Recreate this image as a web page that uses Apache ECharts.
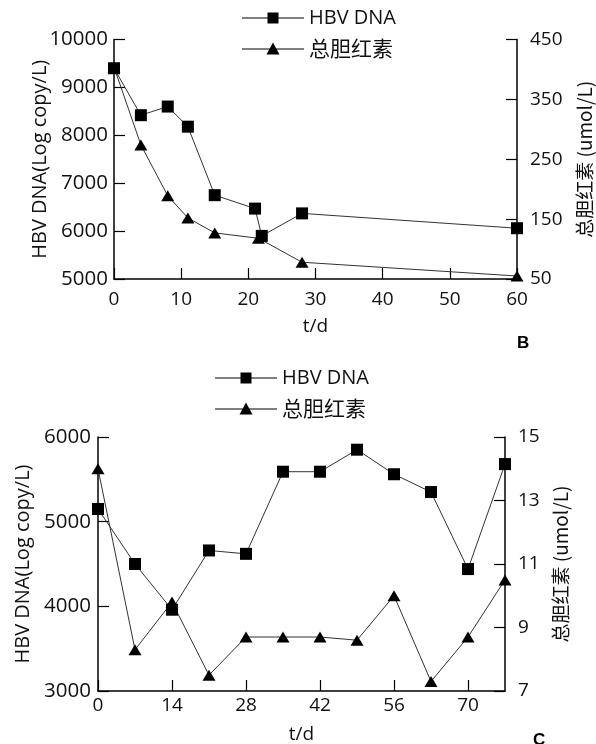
<!DOCTYPE html>
<html><head><meta charset="utf-8">
<script src="https://cdn.jsdelivr.net/npm/echarts@6/dist/echarts.min.js"></script>
<style>html,body{margin:0;padding:0;background:#fff}#c{width:596px;height:744px}</style>
</head><body><div id="c"></div>
<script>
const seriesNames = ['HBV DNA', '总胆红素'];
// Panel B
const bHbvDays = [0, 4, 8, 11, 15, 21, 22, 28, 60];
const bHbvValues = [9400, 8420, 8600, 8180, 6750, 6470, 5900, 6370, 6060];
const bBilDays = [0, 4, 8, 11, 15, 21.5, 28, 60];
const bBilValues = [404, 274, 189, 152, 127, 118, 78, 55];
const bXTicks = [0, 10, 20, 30, 40, 50, 60];
const bLeftTicks = [5000, 6000, 7000, 8000, 9000, 10000];
const bRightTicks = [50, 150, 250, 350, 450];
// Panel C
const cDays = [0, 7, 14, 21, 28, 35, 42, 49, 56, 63, 70, 77];
const cHbvValues = [5150, 4500, 3960, 4660, 4620, 5590, 5590, 5850, 5560, 5350, 4440, 5680];
const cBilValues = [14.0, 8.3, 9.8, 7.5, 8.7, 8.7, 8.7, 8.6, 10.0, 7.3, 8.7, 10.5];
const cXTicks = [0, 14, 28, 42, 56, 70];
const cLeftTicks = [3000, 4000, 5000, 6000];
const cRightTicks = [7, 9, 11, 13, 15];

const FONT = "'Open Sans', 'Noto Sans CJK SC', sans-serif";
const CJK = "'Noto Sans CJK SC', 'Open Sans', sans-serif";
const axisLine = {show: true, lineStyle: {color: '#000', width: 1.5}};
const lineStyle = {color: '#333', width: 1};
const legendIcons = {
  'HBV DNA': 'path://M0,6L62,6L62,7L0,7Z M25.5,1L36.5,1L36.5,12L25.5,12Z',
  '总胆红素': 'path://M0,6.5L62,6.5L62,7.5L0,7.5Z M31,0.5L37.5,12.5L24.5,12.5Z'
};

function pairs(xs, ys) { return xs.map((x, i) => [x, ys[i]]); }

function xAxisDef(gridIndex, min, max, ticks, nameGap, margin) {
  return {
    type: 'value', gridIndex, min, max,
    name: 't/d', nameLocation: 'middle', nameGap, nameMoveOverlap: false,
    nameTextStyle: {fontFamily: FONT, fontSize: 19, color: '#111'},
    axisLine, splitLine: {show: false},
    axisTick: {show: true, inside: true, length: 11, customValues: ticks, lineStyle: {color: '#000', width: 1.2}},
    axisLabel: {customValues: ticks, fontFamily: FONT, fontSize: 19, color: '#111', margin}
  };
}
function yAxisDef(gridIndex, pos, min, max, ticks, name, nameGap, fontSize, margin) {
  return {
    type: 'value', gridIndex, position: pos, min, max,
    name, nameLocation: 'middle', nameGap, nameMoveOverlap: false,
    nameTextStyle: {fontFamily: pos === 'left' ? FONT : CJK, fontSize: pos === 'left' ? 20 : 19, color: '#111'},
    axisLine, splitLine: {show: false},
    axisTick: {show: true, inside: true, length: 11, customValues: ticks, lineStyle: {color: '#000', width: 1.2}},
    axisLabel: {customValues: ticks, formatter: v => String(v), fontFamily: FONT, fontSize, color: '#111', margin}
  };
}
function legendDef(left, top) {
  return {
    data: seriesNames.map(n => ({name: n, icon: legendIcons[n]})),
    orient: 'vertical', left, top, padding: 0,
    itemWidth: 62, itemHeight: 13, itemGap: 10,
    formatter: n => /[\u4e00-\u9fff]/.test(n) ? '{c|' + n + '}' : n,
    textStyle: {fontFamily: FONT, fontSize: 20, color: '#111', rich: {c: {fontFamily: CJK, fontSize: 21, color: '#111'}}},
    selectedMode: false
  };
}
function series(name, xi, yi, data, symbol, size) {
  return {
    name, type: 'line', xAxisIndex: xi, yAxisIndex: yi, data,
    symbol, symbolSize: size, showSymbol: true,
    lineStyle, itemStyle: {color: '#000'}, emphasis: {disabled: true}, animation: false
  };
}

const chart = echarts.init(document.getElementById('c'));
chart.setOption({
  backgroundColor: '#fff',
  animation: false,
  title: [
    {text: 'B', left: 512, top: 330, textStyle: {fontFamily: "'Liberation Sans', Arial", fontWeight: 'bold', fontSize: 17, color: '#000'}},
    {text: 'C', left: 528, top: 727, textStyle: {fontFamily: "'Liberation Sans', Arial", fontWeight: 'bold', fontSize: 17, color: '#000'}}
  ],
  legend: [legendDef(242, 8), legendDef(215, 368)],
  grid: [
    {left: 114, right: 79, top: 39.5, bottom: 465, outerBoundsMode: 'none', containLabel: false},
    {left: 98, right: 91, top: 437, bottom: 53, outerBoundsMode: 'none', containLabel: false}
  ],
  xAxis: [
    xAxisDef(0, 0, 60, bXTicks, 38, 11),
    xAxisDef(1, 0, 77, cXTicks, 34, 5)
  ],
  yAxis: [
    yAxisDef(0, 'left', 5000, 10000, bLeftTicks, 'HBV DNA(Log copy/L)', 64, 20.5, 6),
    yAxisDef(0, 'right', 50, 450, bRightTicks, '总胆红素 (umol/L)', 58, 19, 13),
    yAxisDef(1, 'left', 3000, 6000, cLeftTicks, 'HBV DNA(Log copy/L)', 65, 20.5, 7),
    yAxisDef(1, 'right', 7, 15, cRightTicks, '总胆红素 (umol/L)', 46, 19, 13)
  ],
  series: [
    series(seriesNames[0], 0, 0, pairs(bHbvDays, bHbvValues), 'rect', 12),
    series(seriesNames[1], 0, 1, pairs(bBilDays, bBilValues), 'triangle', [13, 11]),
    series(seriesNames[0], 1, 2, pairs(cDays, cHbvValues), 'rect', 12),
    series(seriesNames[1], 1, 3, pairs(cDays, cBilValues), 'triangle', [13, 11])
  ]
});
</script>
</body></html>
